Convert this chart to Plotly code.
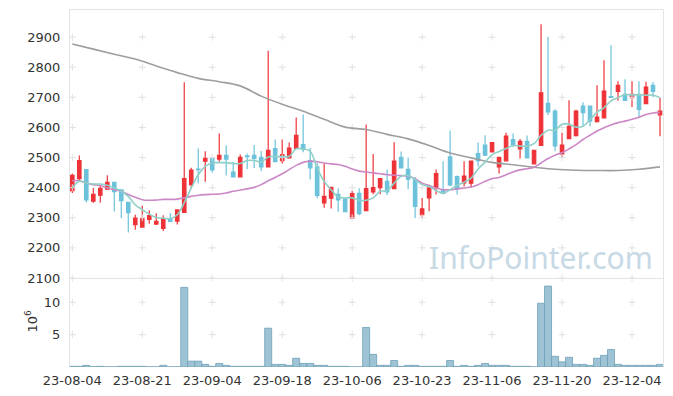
import plotly.graph_objects as go

# ---------------- data ----------------
dates = [
    "23-08-04", "23-08-07", "23-08-08", "23-08-09", "23-08-10", "23-08-11", "23-08-14", "23-08-16", "23-08-17", "23-08-18",
    "23-08-21", "23-08-22", "23-08-23", "23-08-24", "23-08-25", "23-08-28", "23-08-29", "23-08-30", "23-08-31", "23-09-01",
    "23-09-04", "23-09-05", "23-09-06", "23-09-07", "23-09-08", "23-09-11", "23-09-12", "23-09-13", "23-09-14", "23-09-15",
    "23-09-18", "23-09-19", "23-09-20", "23-09-21", "23-09-22", "23-09-25", "23-09-26", "23-09-27", "23-10-04", "23-10-05",
    "23-10-06", "23-10-10", "23-10-11", "23-10-12", "23-10-13", "23-10-16", "23-10-17", "23-10-18", "23-10-19", "23-10-20",
    "23-10-23", "23-10-24", "23-10-25", "23-10-26", "23-10-27", "23-10-30", "23-10-31", "23-11-01", "23-11-02", "23-11-03",
    "23-11-06", "23-11-07", "23-11-08", "23-11-09", "23-11-10", "23-11-13", "23-11-14", "23-11-15", "23-11-16", "23-11-17",
    "23-11-20", "23-11-21", "23-11-22", "23-11-23", "23-11-24", "23-11-27", "23-11-28", "23-11-29", "23-11-30", "23-12-01",
    "23-12-04", "23-12-05", "23-12-06", "23-12-07", "23-12-08",
]

open_p = [2390, 2430, 2460, 2355, 2375, 2395, 2418, 2393, 2351, 2277,
          2269, 2295, 2279, 2265, 2297, 2289, 2318, 2410, 2462, 2488,
          2497, 2495, 2507, 2452, 2436, 2506, 2507, 2501, 2469, 2530,
          2490, 2499, 2530, 2543, 2490, 2469, 2349, 2365, 2378, 2361,
          2299, 2381, 2324, 2386, 2400, 2421, 2397, 2501, 2461, 2427,
          2310, 2366, 2399, 2391, 2502, 2437, 2416, 2415, 2513, 2541,
          2519, 2469, 2489, 2560, 2529, 2554, 2479, 2540, 2680, 2654,
          2512, 2563, 2573, 2671, 2671, 2619, 2632, 2702, 2720, 2710,
          2699, 2710, 2679, 2740, 2642]
high_p = [2447, 2507, 2462, 2399, 2408, 2441, 2420, 2395, 2352, 2310,
          2340, 2325, 2315, 2308, 2315, 2327, 2750, 2466, 2531, 2521,
          2499, 2580, 2540, 2485, 2510, 2513, 2542, 2522, 2855, 2560,
          2560, 2550, 2633, 2643, 2532, 2482, 2479, 2402, 2398, 2365,
          2390, 2398, 2610, 2512, 2432, 2460, 2551, 2520, 2500, 2435,
          2366, 2410, 2460, 2488, 2590, 2440, 2488, 2490, 2550, 2574,
          2552, 2503, 2582, 2580, 2562, 2573, 2526, 2943, 2901, 2660,
          2582, 2690, 2659, 2684, 2673, 2740, 2823, 2873, 2753, 2760,
          2753, 2753, 2752, 2751, 2699]
low_p = [2382, 2425, 2351, 2350, 2350, 2393, 2321, 2299, 2251, 2260,
         2267, 2280, 2276, 2256, 2286, 2278, 2316, 2397, 2415, 2420,
         2450, 2486, 2440, 2436, 2435, 2462, 2465, 2455, 2467, 2484,
         2480, 2497, 2528, 2518, 2427, 2365, 2333, 2331, 2320, 2318,
         2297, 2308, 2322, 2378, 2378, 2376, 2395, 2464, 2395, 2299,
         2299, 2322, 2377, 2378, 2405, 2377, 2404, 2400, 2470, 2505,
         2517, 2447, 2487, 2535, 2497, 2497, 2477, 2538, 2641, 2521,
         2501, 2561, 2570, 2605, 2603, 2617, 2630, 2698, 2689, 2688,
         2668, 2631, 2677, 2700, 2571]
close_p = [2441, 2490, 2359, 2378, 2398, 2418, 2387, 2357, 2317, 2299,
           2297, 2307, 2288, 2297, 2288, 2326, 2430, 2458, 2460, 2497,
           2459, 2507, 2495, 2436, 2501, 2503, 2497, 2469, 2524, 2486,
           2510, 2531, 2574, 2527, 2466, 2374, 2371, 2401, 2359, 2320,
           2380, 2314, 2397, 2400, 2430, 2386, 2488, 2466, 2428, 2338,
           2330, 2399, 2447, 2381, 2409, 2396, 2438, 2488, 2490, 2508,
           2550, 2501, 2571, 2541, 2554, 2499, 2524, 2715, 2652, 2539,
           2541, 2604, 2654, 2649, 2621, 2634, 2721, 2700, 2740, 2690,
           2710, 2660, 2734, 2720, 2654]

ma5 = [2399, 2421, 2416, 2412, 2412, 2408, 2399, 2388, 2371, 2343,
       2327, 2312, 2301, 2299, 2297, 2310, 2350, 2399, 2443, 2471,
       2482, 2483, 2483, 2480, 2480, 2490, 2490, 2485, 2502, 2503,
       2503, 2504, 2529, 2529, 2521, 2465, 2421, 2393, 2369, 2366,
       2366, 2358, 2358, 2366, 2388, 2390, 2415, 2438, 2440, 2427,
       2410, 2404, 2390, 2382, 2393, 2408, 2418, 2432, 2462, 2485,
       2510, 2520, 2530, 2540, 2538, 2538, 2546, 2574, 2591, 2591,
       2611, 2611, 2601, 2604, 2626, 2651, 2666, 2688, 2699, 2709,
       2708, 2708, 2707, 2707, 2699]
ma20 = [2423, 2423, 2416, 2410, 2407, 2399, 2393, 2388, 2377, 2368,
        2360, 2358, 2359, 2361, 2361, 2362, 2366, 2371, 2375, 2377,
        2378, 2379, 2382, 2388, 2392, 2396, 2401, 2410, 2423, 2434,
        2446, 2460, 2474, 2484, 2488, 2486, 2482, 2479, 2477, 2471,
        2462, 2455, 2452, 2449, 2446, 2443, 2441, 2440, 2438, 2430,
        2415, 2407, 2399, 2393, 2393, 2396, 2399, 2402, 2410, 2421,
        2430, 2434, 2443, 2452, 2459, 2463, 2468, 2482, 2497, 2508,
        2516, 2529, 2543, 2560, 2574, 2588, 2599, 2608, 2616, 2621,
        2627, 2634, 2643, 2648, 2650]
ma60_dates = ["23-08-04", "23-08-09", "23-08-14", "23-08-18", "23-08-23", "23-08-28", "23-08-31", "23-09-05",
              "23-09-08", "23-09-13", "23-09-18", "23-09-21", "23-09-26", "23-10-05", "23-10-11", "23-10-16",
              "23-10-19", "23-10-24", "23-10-27", "23-11-01", "23-11-06", "23-11-09", "23-11-14", "23-11-17",
              "23-11-22", "23-11-27", "23-11-30", "23-12-05", "23-12-08"]
ma60 = [2877, 2860, 2843, 2827, 2804, 2782, 2763, 2752, 2738, 2704, 2677, 2654, 2627, 2601, 2593,
        2577, 2562, 2540, 2515, 2499, 2484, 2476, 2468, 2461, 2458, 2457, 2457, 2461, 2469]

volume = [0.1, 0.1, 0.25, 0.05, 0.1, 0.02, 0.02, 0.1, 0.1, 0.1,
          0.1, 0.02, 0.02, 0.25, 0.02, 0.02, 12.3, 0.9, 0.9, 0.4,
          0.1, 0.55, 0.25, 0.1, 0.1, 0.1, 0.1, 0.1, 6.0, 0.4,
          0.4, 0.25, 1.35, 0.55, 0.55, 0.25, 0.25, 0.1, 0.1, 0.1,
          0.02, 0.02, 6.1, 1.95, 0.25, 0.25, 1.0, 0.1, 0.25, 0.25,
          0.1, 0.1, 0.1, 0.1, 1.0, 0.1, 0.25, 0.1, 0.25, 0.55,
          0.25, 0.25, 0.25, 0.1, 0.1, 0.1, 0.02, 9.85, 12.5, 1.65,
          0.8, 1.5, 0.4, 0.4, 0.25, 1.35, 1.8, 2.7, 0.4, 0.25,
          0.25, 0.25, 0.25, 0.25, 0.4]

x_ticks = ["23-08-04", "23-08-21", "23-09-04", "23-09-18", "23-10-06", "23-10-23", "23-11-06", "23-11-20", "23-12-04"]
price_ticks = [2100, 2200, 2300, 2400, 2500, 2600, 2700, 2800, 2900]
vol_ticks = [5, 10]

# ---------------- styles ----------------
RED = "#ee3338"
BLUE = "#6cc2da"
MA5C = "#8fd0c8"
MA20C = "#cc88c6"
MA60C = "#9e9e9e"
VOLF = "#9ec3d4"
VOLL = "#6f9fb8"
FRAME = "#e4e4e4"
CROSS = "#e0e0e0"
TXT = "#333333"
FONT = "DejaVu Sans"

fig = go.Figure()

# grid crosses
cx, cy = [], []
for xv in x_ticks:
    for yv in price_ticks:
        cx.append(xv); cy.append(yv)
fig.add_trace(go.Scatter(x=cx, y=cy, mode="markers", xaxis="x", yaxis="y",
                         marker=dict(symbol="cross-thin", size=5, line=dict(color=CROSS, width=1)),
                         hoverinfo="skip", showlegend=False, cliponaxis=False))
vx, vy = [], []
for xv in x_ticks:
    for yv in vol_ticks:
        vx.append(xv); vy.append(yv)
fig.add_trace(go.Scatter(x=vx, y=vy, mode="markers", xaxis="x2", yaxis="y2",
                         marker=dict(symbol="cross-thin", size=5, line=dict(color=CROSS, width=1)),
                         hoverinfo="skip", showlegend=False))

fig.add_trace(go.Candlestick(
    x=dates, open=open_p, high=high_p, low=low_p, close=close_p,
    xaxis="x", yaxis="y",
    increasing=dict(line=dict(color=RED, width=1.2), fillcolor=RED),
    decreasing=dict(line=dict(color=BLUE, width=1.2), fillcolor=BLUE),
    hoverinfo="skip", showlegend=False))

fig.add_trace(go.Scatter(x=ma60_dates, y=ma60, mode="lines", xaxis="x", yaxis="y",
                         line=dict(color=MA60C, width=1.6, shape="spline"), hoverinfo="skip", showlegend=False))
fig.add_trace(go.Scatter(x=dates, y=ma20, mode="lines", xaxis="x", yaxis="y",
                         line=dict(color=MA20C, width=1.6, shape="spline"), hoverinfo="skip", showlegend=False))
fig.add_trace(go.Scatter(x=dates, y=ma5, mode="lines", xaxis="x", yaxis="y",
                         line=dict(color=MA5C, width=1.6, shape="spline"), hoverinfo="skip", showlegend=False))

fig.add_trace(go.Bar(x=dates, y=volume, xaxis="x2", yaxis="y2", width=1.0,
                     marker=dict(color=VOLF, line=dict(color=VOLL, width=0.8)),
                     hoverinfo="skip", showlegend=False))

split = 0.2493
xr = [-0.33, 84.43]
fig.update_layout(
    template="none",
    width=673, height=396,
    margin=dict(l=70, r=10, t=10, b=29, autoexpand=False),
    paper_bgcolor="white", plot_bgcolor="white",
    hovermode=False, bargap=0, showlegend=False,
    font=dict(family=FONT, size=13, color=TXT),
    xaxis=dict(type="category", categoryorder="array", categoryarray=dates, range=xr,
               anchor="y", showticklabels=False, showgrid=False, zeroline=False, automargin=False,
               showline=True, mirror=True, linecolor=FRAME, linewidth=1, ticks="",
               rangeslider=dict(visible=False)),
    xaxis2=dict(type="category", categoryorder="array", categoryarray=dates, range=xr,
                anchor="y2", matches="x", tickvals=x_ticks, ticktext=x_ticks, automargin=False,
                showgrid=False, zeroline=False, showline=False, ticks="",
                ticklabelstandoff=4, tickfont=dict(family=FONT, size=13, color=TXT),
                rangeslider=dict(visible=False)),
    yaxis=dict(domain=[split, 1], range=[2100, 2990], tickvals=price_ticks, automargin=False,
               showgrid=False, zeroline=False, showline=True, mirror=True,
               linecolor=FRAME, linewidth=1, ticks="", ticklabelstandoff=6,
               tickfont=dict(family=FONT, size=13, color=TXT)),
    yaxis2=dict(domain=[0, split], range=[0, 13.75], tickvals=vol_ticks, automargin=False,
                showgrid=False, zeroline=False, showline=True, mirror=True,
                linecolor=FRAME, linewidth=1, ticks="", ticklabelstandoff=6,
                tickfont=dict(family=FONT, size=13, color=TXT)),
    annotations=[
        dict(text="10<sup>6</sup>", xref="paper", yref="paper", x=-0.066, y=0.13,
             xanchor="center", yanchor="middle",
             showarrow=False, textangle=-90, font=dict(family=FONT, size=13, color=TXT)),
        dict(text="InfoPointer.com", xref="paper", yref="paper", x=0.9865, y=0.308,
             xanchor="right", yanchor="middle", showarrow=False,
             font=dict(family="Noto Sans", size=30, color="#c6d9e4")),
    ],
)

fig.write_html("out.html", config={"displayModeBar": False, "staticPlot": True},
               post_script="document.body.style.margin='0';document.body.style.padding='0';")
